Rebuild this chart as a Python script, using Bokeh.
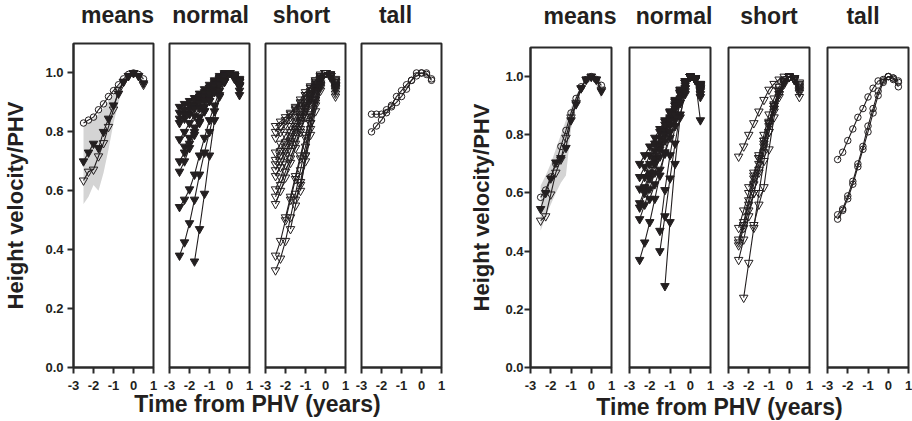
import math

from bokeh.embed import file_html
from bokeh.layouts import column, row
from bokeh.models import FixedTicker, Label, PrintfTickFormatter, Range1d
from bokeh.plotting import figure
from bokeh.resources import INLINE

# ---------------------------------------------------------------------------
# Data: height velocity relative to peak height velocity (PHV),
# sampled every quarter year from 2.5 years before PHV to 0.5 years after.
# ---------------------------------------------------------------------------
t_years = [-2.5, -2.25, -2.0, -1.75, -1.5, -1.25, -1.0, -0.75, -0.5, -0.25, 0.0, 0.25, 0.5]
N = None

panel_titles = ["means", "normal", "short", "tall"]
x_ticks = [-3, -2, -1, 0, 1]
y_ticks = [0.0, 0.2, 0.4, 0.6, 0.8, 1.0]

# ---- first cohort -----------------------------------------------------------
a_mean_tall = [0.83, 0.84, 0.85, 0.875, 0.895, 0.92, 0.94, 0.96, 0.98, 0.995, 1.0, 0.995, 0.98]
a_mean_normal = [0.70, 0.73, 0.76, 0.745, 0.80, 0.845, 0.89, 0.93, 0.97, 0.99, 1.0, 0.99, 0.965]
a_mean_short = [0.635, 0.665, 0.672, 0.717, 0.762, 0.817, 0.876, 0.943, 0.97, 0.99, 1.0, 0.99, 0.96]
a_band_lo = [0.555, 0.58, 0.62, 0.60, 0.66, 0.74, 0.83, 0.90, 0.955, 0.985, 0.99, 0.98, 0.955]
a_band_hi = [0.82, 0.83, 0.845, 0.86, 0.88, 0.905, 0.93, 0.955, 0.98, 0.995, 1.005, 1.0, 0.985]

a_normal = [
    [0.885, 0.895, 0.905, 0.915, 0.93, 0.945, 0.96, 0.975, 0.99, 1.0, 1.0, 0.99, 0.975],
    [0.865, 0.875, 0.89, 0.905, 0.92, 0.935, 0.95, 0.97, 0.985, 0.995, 1.0, 0.995, 0.98],
    [0.845, 0.86, 0.875, 0.89, 0.91, 0.93, 0.95, 0.965, 0.98, 0.995, 1.0, 0.99, 0.96],
    [0.83, 0.845, 0.86, 0.88, 0.90, 0.92, 0.94, 0.96, 0.98, 0.995, 1.0, 0.99, 0.97],
    [0.775, 0.80, 0.83, 0.855, 0.88, 0.905, 0.93, 0.955, 0.975, 0.99, 1.0, 0.985, 0.955],
    [N, 0.75, 0.78, 0.815, 0.85, 0.885, 0.915, 0.945, 0.97, 0.99, 1.0, 0.99, 0.955],
    [0.70, 0.73, 0.76, 0.80, 0.835, 0.87, 0.905, 0.94, 0.965, 0.99, 1.0, 0.99, 0.97],
    [0.665, 0.70, 0.745, 0.79, 0.83, 0.87, 0.905, 0.935, 0.96, 0.985, 1.0, 0.985, 0.94],
    [0.545, 0.57, 0.605, 0.655, 0.72, 0.78, 0.84, 0.89, 0.94, 0.975, 1.0, 0.98, 0.925],
    [0.38, 0.425, 0.49, 0.57, 0.655, 0.73, 0.80, 0.87, 0.925, 0.97, 1.0, 0.99, 0.96],
    [N, N, N, 0.36, 0.47, 0.59, 0.72, 0.84, 0.92, 0.97, 1.0, 0.995, 0.975],
]
a_short = [
    [0.82, 0.835, 0.85, 0.865, 0.88, 0.90, 0.925, 0.95, 0.97, 0.99, 1.0, 0.99, 0.96],
    [0.80, 0.82, 0.84, 0.86, 0.885, 0.91, 0.935, 0.955, 0.975, 0.995, 1.0, 0.985, 0.95],
    [0.78, 0.80, 0.825, 0.85, 0.875, 0.90, 0.925, 0.95, 0.975, 0.99, 1.0, 0.99, 0.97],
    [0.73, 0.76, 0.79, 0.82, 0.85, 0.88, 0.91, 0.94, 0.965, 0.99, 1.0, 0.99, 0.975],
    [0.705, 0.735, 0.765, 0.80, 0.835, 0.87, 0.90, 0.93, 0.96, 0.985, 1.0, 0.995, 0.965],
    [0.69, 0.72, 0.75, 0.785, 0.82, 0.855, 0.89, 0.925, 0.955, 0.985, 1.0, 0.99, 0.93],
    [0.67, 0.70, 0.735, 0.77, 0.81, 0.85, 0.885, 0.92, 0.95, 0.98, 1.0, 0.985, 0.945],
    [0.65, 0.68, 0.72, 0.76, 0.80, 0.84, 0.88, 0.915, 0.95, 0.98, 1.0, 0.99, 0.96],
    [0.605, 0.645, 0.69, 0.735, 0.78, 0.83, 0.87, 0.91, 0.95, 0.98, 1.0, 0.99, 0.92],
    [0.58, 0.62, 0.665, 0.71, 0.76, 0.81, 0.855, 0.90, 0.945, 0.98, 1.0, 0.99, 0.955],
    [0.555, 0.60, 0.645, 0.695, 0.745, 0.80, 0.85, 0.895, 0.94, 0.975, 1.0, 0.995, 0.97],
    [0.38, 0.43, 0.50, 0.57, 0.64, 0.71, 0.78, 0.85, 0.91, 0.96, 1.0, 0.99, 0.96],
    [0.33, 0.37, 0.43, 0.51, 0.59, 0.67, 0.75, 0.83, 0.90, 0.955, 1.0, 0.99, 0.94],
    [N, N, 0.51, 0.58, 0.65, 0.72, 0.79, 0.86, 0.92, 0.965, 1.0, 0.995, 0.975],
    [N, N, N, 0.47, 0.55, 0.63, 0.72, 0.81, 0.89, 0.95, 1.0, 0.99, 0.955],
    [N, N, N, N, 0.57, 0.62, 0.70, 0.79, 0.87, 0.94, 1.0, 0.995, 0.98],
    [N, N, N, N, N, 0.60, 0.72, 0.83, 0.91, 0.96, 1.0, 0.99, 0.95],
]
a_tall = [
    [0.86, 0.86, 0.86, 0.875, 0.885, 0.90, 0.92, 0.945, 0.975, 1.0, 1.0, 1.0, 0.975],
    [0.80, 0.82, 0.84, 0.865, 0.89, 0.92, 0.94, 0.96, 0.975, 0.99, 1.0, 0.995, 0.98],
]

# ---- second cohort ----------------------------------------------------------
b_mean_tall = [0.585, 0.61, 0.655, 0.70, 0.76, 0.815, 0.875, 0.925, 0.965, 0.99, 1.0, 0.99, 0.97]
b_mean_normal = [0.545, 0.60, 0.65, 0.705, 0.72, 0.755, 0.85, 0.905, 0.96, 0.99, 1.0, 0.99, 0.95]
b_mean_short = [0.505, 0.52, 0.595, 0.67, 0.715, 0.79, 0.86, 0.91, 0.96, 0.99, 1.0, 0.99, 0.955]
b_band_lo = [0.47, 0.52, 0.56, 0.60, 0.635, 0.66, 0.82, 0.90, 0.95, 0.98, 0.99, 0.97, 0.92]
b_band_hi = [0.625, 0.66, 0.70, 0.75, 0.80, 0.85, 0.895, 0.935, 0.97, 0.995, 1.005, 1.0, 0.985]

b_normal = [
    [0.70, 0.73, 0.76, 0.79, 0.82, 0.85, 0.88, 0.92, 0.955, 0.985, 1.0, 0.99, 0.96],
    [0.655, 0.69, 0.73, 0.77, 0.81, 0.845, 0.88, 0.915, 0.95, 0.98, 1.0, 0.99, 0.95],
    [N, 0.62, 0.67, 0.72, 0.77, 0.82, 0.86, 0.905, 0.945, 0.98, 1.0, 0.99, 0.955],
    [0.615, 0.655, 0.70, 0.745, 0.79, 0.835, 0.875, 0.915, 0.955, 0.985, 1.0, 0.99, 0.97],
    [0.565, 0.61, 0.66, 0.71, 0.76, 0.81, 0.855, 0.90, 0.945, 0.98, 1.0, 0.995, 0.93],
    [0.55, 0.60, 0.65, 0.70, 0.75, 0.80, 0.85, 0.90, 0.945, 0.98, 1.0, 0.995, 0.975],
    [0.51, 0.56, 0.615, 0.67, 0.725, 0.78, 0.835, 0.89, 0.94, 0.98, 1.0, 0.99, 0.96],
    [N, N, 0.58, 0.63, 0.68, 0.735, 0.79, 0.85, 0.91, 0.96, 1.0, 0.99, 0.97],
    [0.37, 0.43, 0.50, 0.58, 0.66, 0.74, 0.81, 0.87, 0.925, 0.97, 1.0, 0.99, 0.85],
    [N, N, N, N, 0.40, 0.52, 0.65, 0.77, 0.87, 0.94, 1.0, 0.99, 0.965],
    [N, N, N, N, 0.47, 0.61, 0.73, 0.83, 0.91, 0.96, 1.0, 0.995, 0.975],
    [N, N, N, N, N, 0.28, 0.50, 0.70, 0.86, 0.95, 1.0, 0.99, 0.94],
]
b_short = [
    [0.725, 0.76, 0.80, 0.84, 0.88, 0.92, 0.955, 0.975, 0.99, 1.0, 1.0, 0.995, 0.975],
    [0.48, 0.54, 0.60, 0.66, 0.72, 0.78, 0.845, 0.905, 0.955, 0.985, 1.0, 0.995, 0.965],
    [0.44, 0.50, 0.575, 0.65, 0.73, 0.80, 0.87, 0.925, 0.965, 0.99, 1.0, 0.99, 0.96],
    [0.43, 0.49, 0.56, 0.63, 0.70, 0.77, 0.84, 0.90, 0.95, 0.985, 1.0, 0.99, 0.93],
    [0.42, 0.48, 0.54, 0.60, 0.67, 0.74, 0.81, 0.88, 0.94, 0.98, 1.0, 0.995, 0.97],
    [0.37, 0.44, 0.52, 0.60, 0.68, 0.76, 0.83, 0.89, 0.94, 0.98, 1.0, 0.99, 0.955],
    [N, N, 0.62, 0.67, 0.72, 0.78, 0.84, 0.90, 0.95, 0.985, 1.0, 0.99, 0.945],
    [N, N, N, 0.49, 0.56, 0.62, 0.75, 0.86, 0.93, 0.975, 1.0, 0.99, 0.95],
    [N, 0.24, 0.36, 0.48, 0.60, 0.71, 0.81, 0.89, 0.95, 0.985, 1.0, 0.995, 0.98],
]
b_tall = [
    [0.715, 0.74, 0.78, 0.82, 0.86, 0.89, 0.93, 0.96, 0.985, 0.99, 1.0, 0.995, 0.985],
    [0.525, 0.545, 0.59, 0.64, 0.70, 0.76, 0.83, 0.89, 0.95, 0.985, 1.0, 0.995, 0.965],
    [0.51, 0.54, 0.58, 0.63, 0.69, 0.75, 0.81, 0.875, 0.935, 0.98, 1.0, 0.99, 0.98],
]

# ---------------------------------------------------------------------------
# Styling
# ---------------------------------------------------------------------------
INK = "#231f20"
FRAME = "#2a2a2a"
BAND = "#d4d4d4"
FONT = "Liberation Sans"

STYLE_NORMAL = dict(marker="inverted_triangle", size=8.5, fill_color=INK, line_color=INK, line_width=1)
STYLE_SHORT = dict(marker="inverted_triangle", size=8.5, fill_alpha=0, line_color=INK, line_width=1)
STYLE_TALL = dict(marker="circle", size=6.5, fill_alpha=0, line_color=INK, line_width=1)


def clean(ys):
    return [math.nan if v is None else v for v in ys]


def draw_series(p, ys, style):
    y = clean(ys)
    p.line(t_years, y, line_color=INK, line_width=1.1)
    p.scatter(t_years, y, **style)


def text_strip(width, height, items, size):
    """A blank canvas in pixel units carrying bold texts at (x, baseline) positions."""
    s = figure(
        width=width, height=height, x_range=Range1d(0, width), y_range=Range1d(0, height),
        output_backend="svg", toolbar_location=None,
        x_axis_location=None, y_axis_location=None,
        min_border_left=0, min_border_right=0,
        min_border_top=0, min_border_bottom=0,
    )
    s.xgrid.visible = False
    s.ygrid.visible = False
    s.outline_line_color = None
    for x, y, text in items:
        s.add_layout(Label(
            x=x, y=y, text=text, text_align="center", text_baseline="alphabetic",
            text_font=FONT, text_font_style="bold", text_font_size=size, text_color=INK,
        ))
    return s


def make_panel(geom, first):
    left, right, frame_w, frame_h, bottom, tick_standoff, label_standoff = geom
    top = 3
    p = figure(
        width=left + frame_w + right,
        height=top + frame_h + bottom,
        x_range=Range1d(-3, 1),
        y_range=Range1d(0, 1.1),
        output_backend="svg",
        toolbar_location=None,
        min_border_left=left,
        min_border_right=right,
        min_border_top=top,
        min_border_bottom=bottom,
        y_axis_location="left" if first else None,
    )
    p.xgrid.visible = False
    p.ygrid.visible = False
    p.outline_line_color = FRAME
    p.outline_line_width = 2
    p.background_fill_color = "white"
    p.border_fill_color = "white"

    xa = p.xaxis[0]
    xa.ticker = FixedTicker(ticks=x_ticks)
    xa.major_label_overrides = {t: str(t) for t in x_ticks}
    xa.axis_line_color = FRAME
    xa.axis_line_width = 2
    xa.major_tick_line_color = FRAME
    xa.major_tick_line_width = 2
    xa.major_tick_out = 6
    xa.major_tick_in = 0
    xa.minor_tick_out = 0
    xa.minor_tick_in = 0
    xa.major_label_standoff = 7
    xa.major_label_text_font = FONT
    xa.major_label_text_font_style = "bold"
    xa.major_label_text_font_size = "13px"
    xa.major_label_text_color = INK

    if first:
        ya = p.yaxis[0]
        ya.ticker = FixedTicker(ticks=y_ticks)
        ya.formatter = PrintfTickFormatter(format="%.1f")
        ya.axis_line_color = FRAME
        ya.axis_line_width = 2
        ya.major_tick_line_color = FRAME
        ya.major_tick_line_width = 2
        ya.major_tick_out = 6
        ya.major_tick_in = 0
        ya.minor_tick_out = 0
        ya.minor_tick_in = 0
        ya.major_label_standoff = tick_standoff
        ya.major_label_text_font = FONT
        ya.major_label_text_font_style = "bold"
        ya.major_label_text_font_size = "13px"
        ya.major_label_text_color = INK
        ya.axis_label = "Height velocity/PHV"
        ya.axis_label_standoff = label_standoff
        ya.axis_label_text_font = FONT
        ya.axis_label_text_font_style = "bold"
        ya.axis_label_text_font_size = "22px"
        ya.axis_label_text_color = INK
    return p


def make_group(geoms, dxs, title_h, title_base, mean_tall, mean_normal, mean_short,
               band_lo, band_hi, normal, short, tall, strip_h, base):
    plots = [make_panel(g, i == 0) for i, g in enumerate(geoms)]

    pm, pn, ps, pt = plots
    pm.varea(x=t_years, y1=band_lo, y2=band_hi, fill_color=BAND)
    draw_series(pm, mean_tall, STYLE_TALL)
    draw_series(pm, mean_short, STYLE_SHORT)
    draw_series(pm, mean_normal, STYLE_NORMAL)
    for ys in normal:
        draw_series(pn, ys, STYLE_NORMAL)
    for ys in short:
        draw_series(ps, ys, STYLE_SHORT)
    for ys in tall:
        draw_series(pt, ys, STYLE_TALL)

    # panel headings, each centred over its frame (nudged by dx)
    heads, x0 = [], 0
    for g, dx, name in zip(geoms, dxs, panel_titles):
        left, right, frame_w = g[0], g[1], g[2]
        heads.append((x0 + left + frame_w / 2 + dx, title_base, name))
        x0 += left + frame_w + right
    total_w = x0
    top = text_strip(total_w, title_h, heads, "23px")

    # shared x-axis title, centred under the span of the four frames
    frames_mid = (geoms[0][0] + total_w - geoms[-1][1]) / 2
    bottom = text_strip(total_w, strip_h, [(frames_mid, base, "Time from PHV (years)")], "23px")
    return column(top, row(*plots, spacing=0), bottom, spacing=0)


# geometry: left, right, frame_w, frame_h, bottom, tick standoff, label standoff
geo_a = [
    (73, 8, 80, 324, 25, 4, 14),
    (8, 8, 80, 324, 25, 4, 14),
    (8, 8, 80, 324, 25, 4, 14),
    (8, 8, 80, 324, 25, 4, 14),
]
geo_b = [
    (81, 9, 81, 322, 23, 1, 8),
    (9, 9, 81, 322, 23, 1, 8),
    (9, 9, 81, 322, 23, 1, 8),
    (9, 4, 81, 322, 23, 1, 8),
]

group_a = make_group(geo_a, [4, 1, -4, -6], 40, 26, a_mean_tall, a_mean_normal, a_mean_short,
                     a_band_lo, a_band_hi, a_normal, a_short, a_tall, 29, 18)
group_b = make_group(geo_b, [9, 4, 0, -5], 44, 29, b_mean_tall, b_mean_normal, b_mean_short,
                     b_band_lo, b_band_hi, b_normal, b_short, b_tall, 29, 15)

layout = row(group_a, group_b, spacing=0)

with open("out.html", "w") as f:
    f.write(file_html(layout, INLINE))
